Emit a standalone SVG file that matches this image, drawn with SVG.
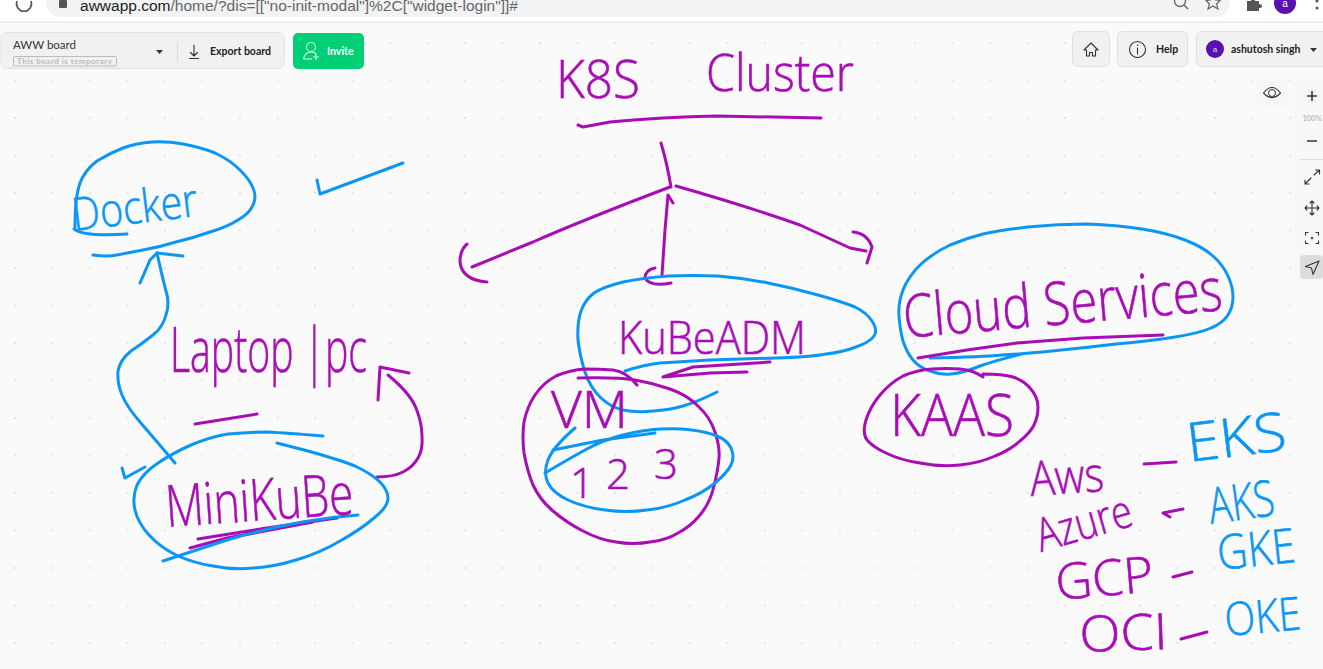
<svg xmlns="http://www.w3.org/2000/svg" width="1323" height="669" viewBox="0 0 1323 669">
<defs>
<pattern id="grid" x="14" y="4.5" width="37.5" height="37.5" patternUnits="userSpaceOnUse"><rect width="2" height="2" fill="#e4e4e4"/></pattern>
<style>
.blue{fill:none;stroke:#0a96f5;stroke-width:3;stroke-linecap:round;stroke-linejoin:round}
.pur{fill:none;stroke:#a80db5;stroke-width:3;stroke-linecap:round;stroke-linejoin:round}
.tb{fill:#0a96f5;stroke:#0a96f5;stroke-width:.6}
.tp{fill:#a80db5;stroke:#a80db5;stroke-width:.6}
.hw{font-family:"Open Sans","Noto Sans",sans-serif;font-weight:300}
.ui{font-family:Lato,"Open Sans",sans-serif}
.uib{font-family:Lato,"Open Sans",sans-serif;font-weight:700;fill:#222}
.panel{fill:#f1f1f1;stroke:#e1e1e1;stroke-width:1}
.ico{fill:none;stroke:#333;stroke-width:1.1;stroke-linecap:round;stroke-linejoin:round}
</style>
</defs>
<rect width="1323" height="669" fill="#fafafa"/>
<rect y="22" width="1323" height="647" fill="url(#grid)"/>
<g id="browser-bar">
<rect width="1323" height="22" fill="#ffffff"/>
<line x1="0" y1="22" x2="1323" y2="22" stroke="#e0e0e0"/>
<path d="M46 -10H1230V0Q1230 17 1213 17H63Q46 17 46 0Z" fill="#f1f3f4"/>
<path d="M31 1A7.5 7.5 0 1 1 17 1" fill="none" stroke="#555" stroke-width="1.6"/>
<rect x="59" y="0" width="8" height="8" rx="1" fill="#555"/>
<text x="80" y="11" font-size="14" fill="#222" textLength="438" lengthAdjust="spacingAndGlyphs" style="font-family:'Liberation Sans',sans-serif">awwapp.com<tspan fill="#666">/home/?dis=[["no-init-modal"]%2C["widget-login"]]#</tspan></text>
<circle cx="1180" cy="1" r="5.5" fill="none" stroke="#666" stroke-width="1.4"/><line x1="1184" y1="5" x2="1188" y2="9" stroke="#666" stroke-width="1.4"/>
<path d="M1213 -4L1215.500 3L1220 3.500L1216.500 7L1218 12L1213 9L1208 12L1209.500 7L1206 3.500L1210.500 3Z" fill="none" stroke="#666" stroke-width="1.2" transform="translate(0,-3)"/>
<path d="M1247 1H1251Q1251 -3 1253 -3Q1255 -3 1255 1H1259V4Q1262 4 1262 6Q1262 8 1259 8V11H1247Z" fill="#555"/>
<circle cx="1285" cy="3" r="11" fill="#5a0fb0"/><text x="1285" y="7" font-size="10" fill="#fff" text-anchor="middle" style="font-family:'Liberation Sans',sans-serif">a</text>
<circle cx="1317" cy="1" r="1.500" fill="#555"/><circle cx="1317" cy="8" r="1.500" fill="#555"/>
</g>
<g id="board-menu">
<rect class="panel" x="1" y="32.500" width="283" height="36" rx="6"/>
<text class="ui" x="13" y="49" font-size="11.500" fill="#333">AWW board</text>
<rect x="13.500" y="56.500" width="103" height="9.500" rx="1" fill="none" stroke="#bbb"/>
<text class="ui" x="17" y="64" font-size="8" font-weight="700" fill="#bbb" textLength="95">This board is temporary</text>
<path d="M156 50H163L159.500 54Z" fill="#333"/>
<line x1="177.500" y1="42" x2="177.500" y2="62" stroke="#ddd"/>
<path class="ico" d="M194 45V56M190.500 52.500L194 56L197.500 52.500M189.500 58.500H198.500"/>
<text class="uib" x="210" y="55" font-size="10.500">Export board</text>
</g>
<g id="invite-button">
<rect x="293" y="33" width="71" height="36" rx="5" fill="#00cf75"/>
<circle cx="311" cy="47" r="4.500" fill="none" stroke="#d8f7e8" stroke-width="1.100"/><path d="M303.500 59Q305 52 311 52Q315 52 316 54M303.500 59H312M316 54V60M313 57H319" fill="none" stroke="#d8f7e8" stroke-width="1.100"/>
<text class="ui" x="327" y="55" font-size="10.500" font-weight="700" fill="#fff">Invite</text>
</g>
<g id="home-button">
<rect class="panel" x="1072.500" y="31.500" width="37" height="35" rx="5"/>
<path class="ico" d="M1084 50L1091 43L1098 50L1095.500 50V56H1092.500V52.500H1089.500V56H1086.500V50Z"/>
</g>
<g id="help-button">
<rect class="panel" x="1117.500" y="31.500" width="70" height="35" rx="5"/>
<circle class="ico" cx="1137.500" cy="49.500" r="8"/><path class="ico" d="M1137.500 48V54M1137.500 45V45.500"/>
<text class="uib" x="1156" y="53" font-size="10.500">Help</text>
</g>
<g id="user-button">
<rect class="panel" x="1196.500" y="31.500" width="135" height="35" rx="5"/>
<circle cx="1215" cy="49" r="9" fill="#5a0fb0"/><text x="1215" y="52" font-size="8" fill="#ddd" text-anchor="middle" style="font-family:'Liberation Sans',sans-serif">a</text>
<text class="uib" x="1231" y="53" font-size="10.500">ashutosh singh</text>
<path d="M1310 48H1317L1313.500 52Z" fill="#333"/>
</g>
<g id="view-tools">
<rect x="1257" y="79" width="31" height="28" rx="5" fill="#f7f7f7"/>
<path class="ico" d="M1263.500 93Q1272 82 1280.500 93Q1272 102 1263.500 93Z"/><circle cx="1272" cy="93" r="3.500" fill="none" stroke="#333"/>
<path d="M1294 85Q1294 78 1301 78H1323V285H1301Q1294 285 1294 278Z" fill="#f8f8f8"/>
<path d="M1312 91V101M1307 96H1317M1307 141H1317" stroke="#333" stroke-width="1.600" fill="none"/>
<text class="ui" x="1312" y="121" font-size="7.500" font-weight="700" fill="#bbb" text-anchor="middle">100%</text>
<line x1="1300" y1="159.500" x2="1323" y2="159.500" stroke="#ddd"/>
<path class="ico" d="M1305 184L1311 178M1305 180V184H1309M1314 175L1319.500 170M1315.500 170H1319.500V174"/>
<path class="ico" d="M1312 201V215M1305 208H1319M1310 203L1312 201L1314 203M1310 213L1312 215L1314 213M1307 206L1305 208L1307 210M1317 206L1319 208L1317 210"/>
<path class="ico" d="M1305.500 235V232.500H1308M1316 232.500H1318.500V235M1318.500 241V243.500H1316M1308 243.500H1305.500V241M1312 237V239M1311 238H1313"/>
<rect x="1300" y="255" width="23" height="24" rx="4" fill="#dcdcdc"/>
<path class="ico" d="M1305.500 266.500L1319 261L1313 274.500L1311.500 268Z"/>
</g>

<g id="connectors">
<path class="blue" d="M175 463Q153 437 140 422Q127 407 122 395Q117 383 118 371Q120 360 131 351Q143 343 153 335Q163 327 166 315Q170 303 166 291Q163 280 157 253"/>
<path class="blue" d="M140 283L150 260L157 253L183 256"/>
<path class="pur" d="M377 477Q393 477 403 472Q413 467 418 458Q423 450 422 436Q422 423 416 408Q410 393 388 375"/>
<path class="pur" d="M378 400L380 367L409 373"/>
<path class="pur" d="M661 143Q667 163 671 187"/>
<path class="pur" d="M670 187Q583 220 533 242L472 267"/>
<path class="pur" d="M467 244Q460 250 460 262Q462 280 487 282"/>
<path class="pur" d="M662 275L665 230L668 195L673 203"/>
<path class="pur" d="M655 268Q645 270 645 278Q650 287 671 283"/>
<path class="pur" d="M676 186Q743 205 800 225L850 248L866 251"/>
<path class="pur" d="M853 232Q867 233 872 247L867 263"/>
</g>

<g id="k8s-cluster">
<text class="hw tp" x="556" y="98" font-size="54" textLength="84" lengthAdjust="spacingAndGlyphs">K8S</text>
<text class="hw tp" x="706" y="91" font-size="52" textLength="148" lengthAdjust="spacingAndGlyphs">Cluster</text>
<path class="pur" d="M578 125L583 127L610 122Q663 117 717 116L821 118"/>
</g>
<g id="docker">
<path class="blue" d="M75 227Q75 197 80 183Q85 170 97 161Q110 153 123 148Q137 143 152 142Q167 141 183 144Q200 147 215 153Q230 160 240 170Q250 180 253 188Q257 197 253 205Q250 213 238 220Q227 227 210 232Q193 238 176 242Q160 247 143 250Q127 253 117 255Q107 257 93 255"/>
<path class="blue" d="M74 229Q85 237 127 234"/>
<text class="hw tb" x="74" y="231" font-size="46" textLength="126" lengthAdjust="spacingAndGlyphs" transform="rotate(-7 74 231)">Docker</text>
</g>
<g id="tick">
<path class="blue" d="M317 180L320 194L403 163"/>
</g>
<g id="laptop-pc">
<text class="hw tp" x="170" y="372" font-size="62" textLength="197" lengthAdjust="spacingAndGlyphs">Laptop |pc</text>
<path class="pur" d="M195 424L257 414"/>
</g>
<g id="minikube">
<path class="blue" d="M323 436Q287 433 267 432Q247 432 228 434Q210 437 191 445Q173 453 158 463Q143 473 137 485Q132 497 135 510Q138 523 149 535Q160 547 176 555Q193 563 213 566Q233 570 253 568Q273 567 296 560Q320 553 340 541Q360 530 374 518Q388 507 388 498Q388 490 379 481Q370 473 355 466Q340 460 308 451L277 443"/>
<path class="blue" d="M122 468L125 478L145 467"/>
<path class="pur" d="M198 539L267 528L337 518M190 548L227 538L313 522"/>
<path class="blue" d="M163 561L227 540Q293 520 358 515"/>
<text class="hw tp" x="167" y="527" font-size="58" textLength="188" lengthAdjust="spacingAndGlyphs" transform="rotate(-4 167 527)">MiniKuBe</text>
</g>
<g id="kubeadm">
<path class="blue" d="M717 392Q697 402 683 406Q670 410 653 411Q637 413 623 410Q610 407 600 397Q590 387 585 372Q580 357 578 340Q577 323 581 311Q585 300 594 293Q603 287 623 282Q643 278 668 276Q693 275 718 276Q743 278 768 283Q793 288 818 295Q843 302 855 307Q867 313 872 321Q878 330 874 336Q870 342 856 347Q843 352 826 354Q810 357 776 358Q743 359 710 360Q677 362 660 363Q643 365 625 371"/>
<path class="pur" d="M663 377L693 367L770 362M663 377L710 373L747 372"/>
<text class="hw tp" x="618" y="354" font-size="46" textLength="188" lengthAdjust="spacingAndGlyphs">KuBeADM</text>
</g>
<g id="vm">
<path class="pur" d="M637 385Q627 372 613 370Q600 369 585 369Q570 370 556 376Q543 383 535 395Q527 407 524 422Q522 437 524 453Q527 470 533 485Q540 500 553 511Q567 523 583 531Q600 540 616 542Q633 545 650 542Q667 540 678 533Q690 527 700 515Q710 503 714 486Q718 470 719 458Q720 447 715 432Q710 417 698 406Q687 395 670 389Q653 383 635 380Q617 377 578 378"/>
<text class="hw tp" x="551" y="428" font-size="52" textLength="77" lengthAdjust="spacingAndGlyphs">VM</text>
<path class="blue" d="M575 428Q553 447 548 460Q543 473 548 483Q553 493 568 500Q583 507 605 510Q627 513 647 510Q667 508 685 500Q703 493 715 483Q727 473 731 465Q735 457 731 448Q727 440 717 436Q707 432 692 430Q677 428 660 429Q643 430 623 435Q603 440 585 450Q567 460 545 473"/>
<path class="blue" d="M553 450L603 440L655 433"/>
<text class="hw tp" font-size="42" x="570 606 654" y="498 489 479">123</text>
</g>
<g id="cloud-services">
<path class="blue" d="M1022 354Q997 360 980 366Q963 373 951 374Q940 375 930 371Q920 368 913 360Q907 353 903 341Q900 330 899 316Q898 303 903 290Q908 277 920 265Q933 253 950 245Q967 238 983 234Q1000 230 1028 227Q1057 224 1087 224Q1117 225 1142 229Q1167 233 1185 240Q1203 247 1213 256Q1223 265 1228 276Q1233 287 1233 297Q1233 307 1228 315Q1223 323 1211 328Q1200 333 1175 337Q1150 341 1116 344Q1083 348 1052 351Q1022 354 1002 355Q983 357 930 358"/>
<path class="pur" d="M918 358L967 350L1017 343L1083 338L1163 335"/>
<text class="hw tp" x="905" y="338" font-size="60" textLength="320" lengthAdjust="spacingAndGlyphs" transform="rotate(-5 905 338)">Cloud Services</text>
</g>
<g id="kaas">
<path class="pur" d="M983 377Q973 370 960 369Q947 368 932 369Q917 370 903 376Q890 383 880 395Q870 407 866 420Q862 433 867 440Q873 447 886 453Q900 460 920 463Q940 467 960 465Q980 463 995 456Q1010 450 1020 441Q1030 433 1034 425Q1038 417 1038 407Q1038 397 1030 388Q1023 380 1013 377Q1003 374 983 374"/>
<text class="hw tp" x="890" y="436" font-size="58" textLength="124" lengthAdjust="spacingAndGlyphs">KAAS</text>
</g>
<g id="aws-eks">
<text class="hw tp" x="1031" y="496" font-size="48" textLength="74" lengthAdjust="spacingAndGlyphs" transform="rotate(-4 1031 496)">Aws</text>
<path class="pur" d="M1144 464L1176 462"/>
<text class="hw tb" x="1189" y="462" font-size="54" textLength="100" lengthAdjust="spacingAndGlyphs" transform="rotate(-7 1189 462)">EKS</text>
</g>
<g id="azure-aks">
<text class="hw tp" x="1041" y="552" font-size="46" textLength="98" lengthAdjust="spacingAndGlyphs" transform="rotate(-16 1041 552)">Azure</text>
<path class="pur" d="M1183 509L1163 513L1170 517"/>
<text class="hw tb" x="1211" y="524" font-size="50" textLength="66" lengthAdjust="spacingAndGlyphs" transform="rotate(-8 1211 524)">AKS</text>
</g>
<g id="gcp-gke">
<text class="hw tp" x="1057" y="600" font-size="50" textLength="98" lengthAdjust="spacingAndGlyphs" transform="rotate(-5 1057 600)">GCP</text>
<path class="pur" d="M1173 577L1192 572"/>
<text class="hw tb" x="1219" y="570" font-size="48" textLength="78" lengthAdjust="spacingAndGlyphs" transform="rotate(-6 1219 570)">GKE</text>
</g>
<g id="oci-oke">
<text class="hw tp" x="1080" y="652" font-size="50" textLength="88" lengthAdjust="spacingAndGlyphs" transform="rotate(-2 1080 652)">OCI</text>
<path class="pur" d="M1181 639L1207 632"/>
<text class="hw tb" x="1226" y="636" font-size="46" textLength="76" lengthAdjust="spacingAndGlyphs" transform="rotate(-5 1226 636)">OKE</text>
</g>
</svg>
